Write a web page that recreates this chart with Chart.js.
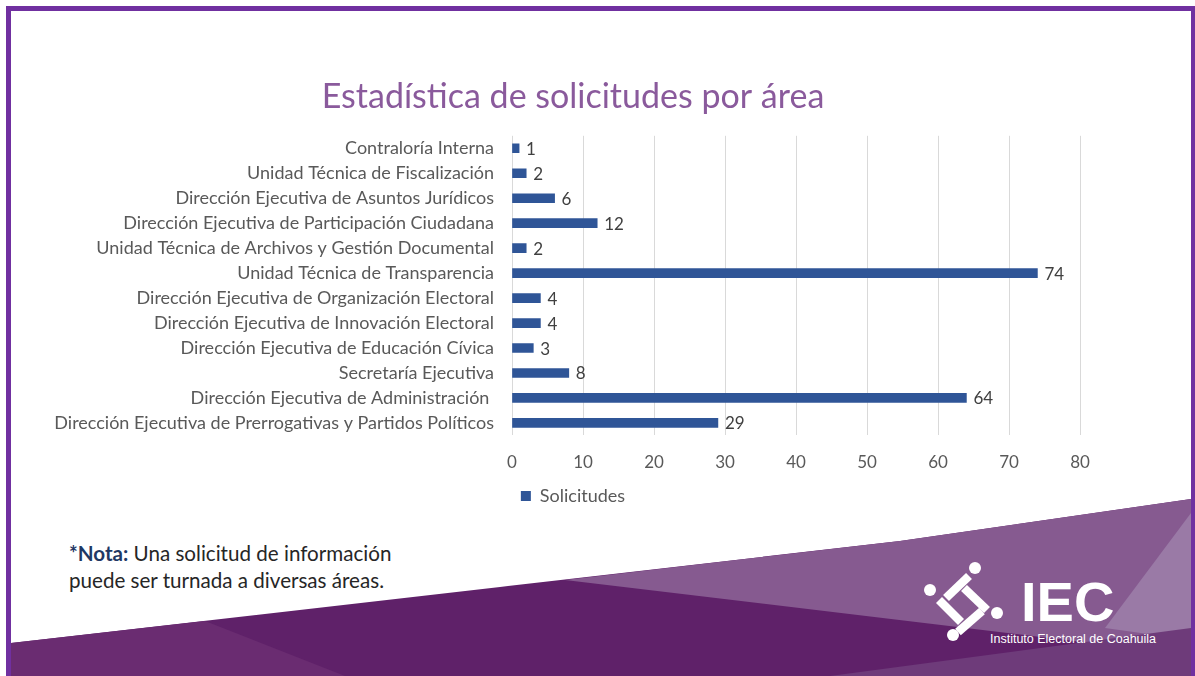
<!DOCTYPE html>
<html lang="es">
<head>
<meta charset="UTF-8">
<title>Estadística de solicitudes por área</title>
<script src="https://cdn.jsdelivr.net/npm/chart.js"></script>
<style>
  html, body { margin: 0; padding: 0; background: #fff; }
  .slide { position: relative; width: 1195px; height: 676px; overflow: hidden; font-family: Lato, sans-serif; }
  .bg { position: absolute; left: 0; top: 0; }
  .frame { position: absolute; left: 6px; top: 6px; width: 1180px; height: 720px; border: 5px solid #7030a0; }
  .nota { position: absolute; left: 69px; top: 540px; font-size: 20.6px; line-height: 27px; color: #262626; }
  .nota b { color: #1f3864; }
  #chartBox { position: absolute; left: 0; top: 0; width: 1195px; height: 676px; }
</style>
</head>
<body>
<div class="slide">
  <!-- fondo morado inferior y logo -->
  <svg class="bg" width="1195" height="676" viewBox="0 0 1195 676">
    <polygon points="11,643 500,587 900,541 1191,499 1191,676 11,676" fill="#5f2169"/>
    <polygon points="11,643 205,621 345,676 11,676" fill="#6a2c71"/>
    <polygon points="565,580 900,541 1191,499 1191,655" fill="#865a90"/>
    <polygon points="1191,513 1191,640 1105,628" fill="#9a7aa6"/>
    <polygon points="830,676 1191,628 1191,676" fill="#6e3b7a"/>
    <g fill="#fff">
      <circle cx="975" cy="568" r="6"/>
      <circle cx="930" cy="590" r="6"/>
      <circle cx="997" cy="613" r="6"/>
      <circle cx="953" cy="635" r="6"/>
    </g>
    <g stroke="#fff" stroke-width="8.5">
      <line x1="969" y1="576" x2="946" y2="598"/>
      <line x1="939" y1="600" x2="961" y2="622"/>
      <line x1="964" y1="588" x2="987" y2="610"/>
      <line x1="982" y1="611" x2="958" y2="632"/>
    </g>
    <text x="1021" y="621" fill="#fff" font-family="Liberation Sans" font-weight="bold" font-size="56">IEC</text>
    <text x="990" y="643" fill="#fff" font-family="Liberation Sans" font-size="12.5">Instituto Electoral de Coahuila</text>
  </svg>

  <div class="nota"><b>*Nota:</b> Una solicitud de información<br>puede ser turnada a diversas áreas.</div>

  <div id="chartBox"><canvas id="areasChart"></canvas></div>
  <div class="frame"></div>
</div>

<script>
  // datos (de arriba hacia abajo)
  const areas = [
    'Contraloría Interna',
    'Unidad Técnica de Fiscalización',
    'Dirección Ejecutiva de Asuntos Jurídicos',
    'Dirección Ejecutiva de Participación Ciudadana',
    'Unidad Técnica de Archivos y Gestión Documental',
    'Unidad Técnica de Transparencia',
    'Dirección Ejecutiva de Organización Electoral',
    'Dirección Ejecutiva de Innovación Electoral',
    'Dirección Ejecutiva de Educación Cívica',
    'Secretaría Ejecutiva',
    'Dirección Ejecutiva de Administración ',
    'Dirección Ejecutiva de Prerrogativas y Partidos Políticos'
  ];
  const solicitudes = [1, 2, 6, 12, 2, 74, 4, 4, 3, 8, 64, 29];
  const xMin = 0, xMax = 80, xStep = 10;

  // etiquetas de valor al final de cada barra
  const valueLabels = {
    id: 'valueLabels',
    afterDatasetsDraw(chart) {
      const ctx = chart.ctx;
      const meta = chart.getDatasetMeta(0);
      ctx.save();
      ctx.font = '17px Lato';
      ctx.fillStyle = '#404040';
      ctx.textBaseline = 'middle';
      meta.data.forEach((bar, i) => {
        ctx.fillText(String(solicitudes[i]), bar.x + 7, bar.y + 1);
      });
      ctx.restore();
    }
  };

  // las etiquetas largas del eje y salen del margen izquierdo: no recortarlas
  const noLabelClip = {
    id: 'noLabelClip',
    afterLayout(chart) { chart.scales.y.left = 0; }
  };

  new Chart(document.getElementById('areasChart'), {
    type: 'bar',
    data: {
      labels: areas,
      datasets: [{
        label: 'Solicitudes',
        data: solicitudes,
        backgroundColor: '#2f5597',
        barThickness: 9
      }]
    },
    options: {
      indexAxis: 'y',
      responsive: true,
      maintainAspectRatio: false,
      animation: false,
      layout: { padding: { top: 0, right: 115, bottom: 161, left: 66 } },
      scales: {
        x: {
          min: xMin, max: xMax,
          ticks: { stepSize: xStep, color: '#595959', font: { family: 'Lato', size: 17 }, padding: 17 },
          grid: { color: '#d9d9d9', drawTicks: false },
          border: { display: false },
          afterFit: (scale) => { scale.height = 40; }
        },
        y: {
          ticks: { color: '#595959', font: { family: 'Lato', size: 18 }, padding: 18, autoSkip: false },
          grid: { display: false, drawTicks: false },
          border: { display: false },
          afterFit: (scale) => { scale.width = 446; }
        }
      },
      plugins: {
        title: {
          display: true,
          text: 'Estadística de solicitudes por área',
          color: '#8a5a9c',
          font: { family: 'Lato', size: 34, weight: 'normal' },
          padding: { top: 77, bottom: 18 }
        },
        legend: {
          position: 'bottom',
          labels: { boxWidth: 10, boxHeight: 10, color: '#595959', font: { family: 'Lato', size: 18 }, padding: 11.6 }
        },
        tooltip: { enabled: false }
      }
    },
    plugins: [valueLabels, noLabelClip]
  });
</script>
</body>
</html>
